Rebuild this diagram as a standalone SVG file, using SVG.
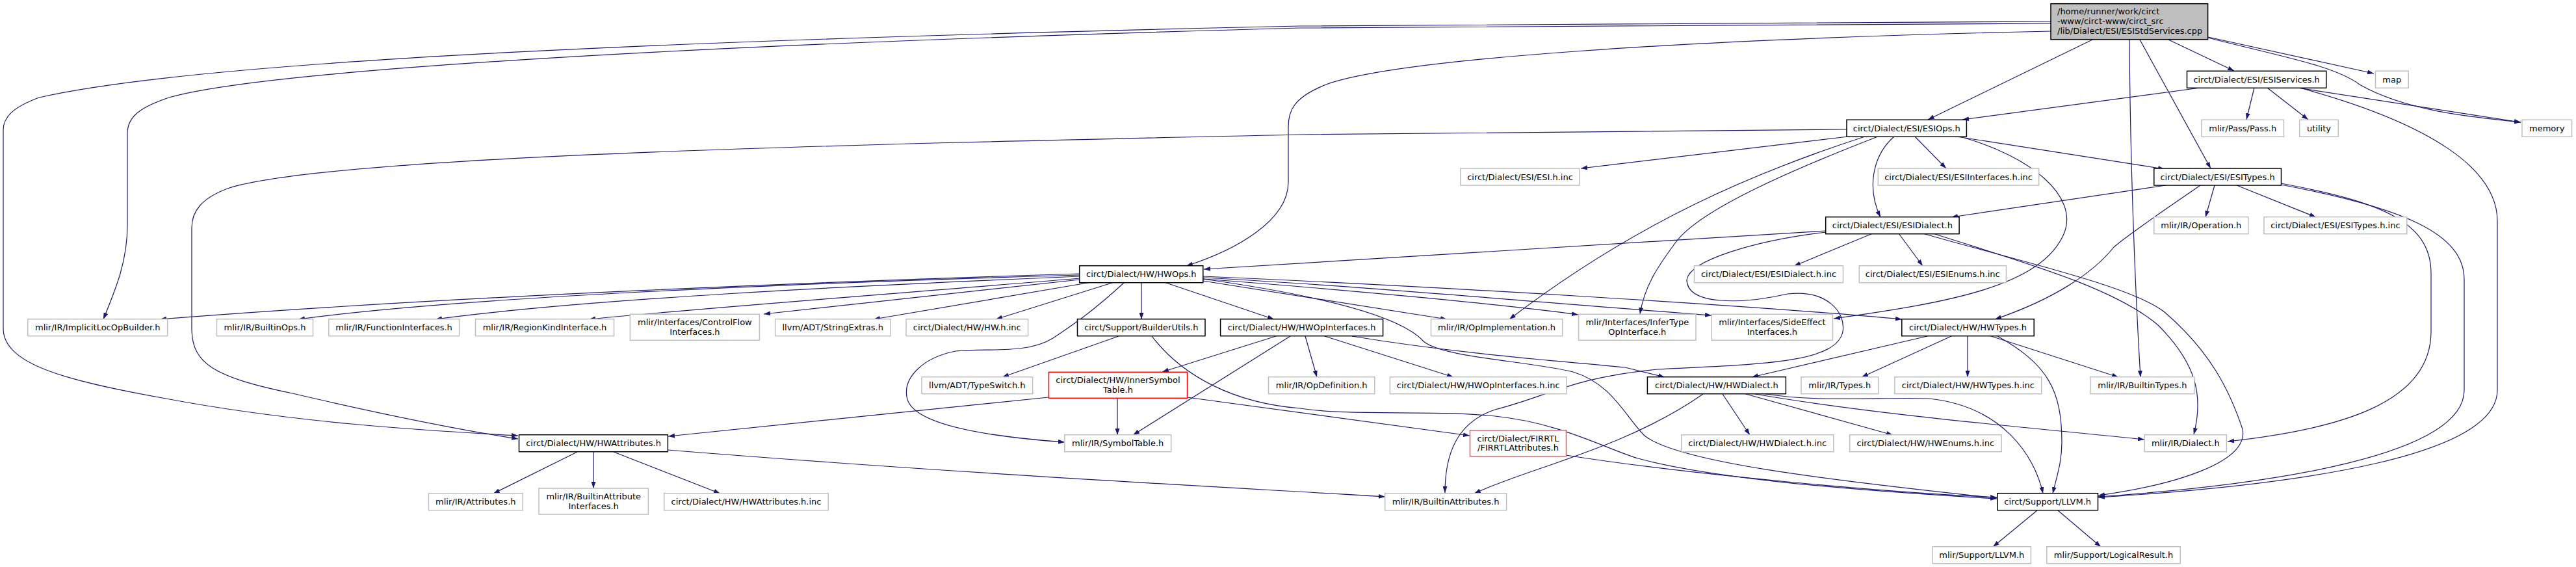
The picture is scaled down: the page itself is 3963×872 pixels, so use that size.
<svg xmlns="http://www.w3.org/2000/svg" width="3963" height="872" viewBox="0 0 3963 872">
<style>
.n rect{fill:#fff;stroke:#bfbfbf;stroke-width:1.5}
.n.b rect{stroke:#000}
.n.r rect{stroke:#ff0000}
.n.r2 rect{stroke:#f05555}
.n.t rect{fill:#bfbfbf;stroke:#000}
text{font-family:"DejaVu Sans","Liberation Sans",sans-serif;font-size:13px;fill:#000;text-anchor:middle}
.n.t text{text-anchor:start}
.e path{fill:none;stroke:#191970;stroke-width:1.2;marker-end:url(#a)}
</style>
<defs>
<marker id="a" viewBox="0 0 10 7" refX="10" refY="3.5" markerWidth="10" markerHeight="7" markerUnits="userSpaceOnUse" orient="auto">
<path d="M0,0 L10,3.5 L0,7 z" fill="#191970"/>
</marker>
</defs>
<rect width="3963" height="872" fill="#fff"/>
<g id="edges" class="e">
<path d="M3219,61 L2966,184"/>
<path d="M3276,61 C3277,250 3285,450 3293,580"/>
<path d="M3292,61 L3401,259"/>
<path d="M3336,61 L3437,109"/>
<path d="M3397,57 L3652,113"/>
<path d="M3397,58 C3500,85 3590,100 3630,130 C3700,170 3800,180 3878,188"/>
<path d="M3155,48 C2600,60 2150,90 2040,130 C1990,150 1982,170 1982,195 L1982,280 C1982,340 1900,385 1825,409"/>
<path d="M3155,36 L2000,43 C1000,70 400,110 260,150 C215,165 196,180 196,205 L196,345 C196,400 180,440 159,491"/>
<path d="M3155,33 L2000,40 C1000,62 300,95 60,150 C20,165 5,180 5,200 L5,505 C5,560 100,585 250,612 C450,650 650,662 797,670"/>
<path d="M3385,135 L3019,184"/>
<path d="M3468,135 L3456,184"/>
<path d="M3488,135 L3551,184"/>
<path d="M3534,135 L3878,188"/>
<path d="M3538,135 C3740,190 3842,260 3842,340 L3842,600 C3842,700 3550,745 3228,765"/>
<path d="M2914,210 C2880,240 2872,290 2893,334"/>
<path d="M2946,210 L2994,259"/>
<path d="M3010,210 L3330,260"/>
<path d="M3022,212 C3120,240 3200,300 3175,360 C3140,440 3000,465 2821,490"/>
<path d="M2843,210 L2432,259"/>
<path d="M2869,210 C2700,265 2520,340 2322,491"/>
<path d="M2889,210 C2760,260 2620,320 2580,370 C2550,410 2530,440 2523,483"/>
<path d="M2841,199 L2000,207 C1300,222 500,240 350,290 C310,305 295,325 295,350 L295,505 C295,560 330,580 450,605 C600,640 700,660 797,675"/>
<path d="M3332,285 L3002,334"/>
<path d="M3385,285 C3320,330 3275,360 3252,380 C3220,420 3160,460 3069,491"/>
<path d="M3407,285 L3393,334"/>
<path d="M3441,285 L3563,334"/>
<path d="M3509,282 C3660,310 3740,340 3740,420 L3740,510 C3740,620 3600,660 3427,679"/>
<path d="M3509,284 C3700,320 3791,360 3791,430 L3791,600 C3791,700 3500,745 3228,764"/>
<path d="M2809,355 L1852,414"/>
<path d="M2881,359 L2760,409"/>
<path d="M2921,359 L2958,409"/>
<path d="M2809,357 C2700,370 2600,400 2595,430 C2595,470 2680,468 2750,452 C2810,445 2840,480 2835,510 C2825,560 2700,560 2550,568 C2420,580 2380,610 2300,630 C2240,650 2223,700 2223,758"/>
<path d="M2974,359 C3100,400 3250,440 3320,500 C3380,560 3390,610 3375,668"/>
<path d="M2958,359 C3100,400 3280,440 3330,480 C3400,540 3430,600 3450,660 C3460,710 3350,745 3228,762"/>
<path d="M1661,421 C1300,432 700,455 246,491"/>
<path d="M1661,423 C1200,436 700,458 459,491"/>
<path d="M1661,425 C1300,440 900,460 670,491"/>
<path d="M1661,428 C1400,450 1100,472 906,491"/>
<path d="M1661,430 L1175,483"/>
<path d="M1679,434 L1344,491"/>
<path d="M1714,434 L1532,491"/>
<path d="M1756,434 L1756,491"/>
<path d="M1791,434 L1960,491"/>
<path d="M1730,434 C1680,480 1650,500 1620,520 C1580,545 1520,535 1470,540 C1420,550 1390,580 1395,610 C1400,650 1500,670 1638,680"/>
<path d="M1851,432 L2226,491"/>
<path d="M1851,429 C2000,440 2300,466 2428,484"/>
<path d="M1851,427 C2100,440 2400,468 2633,485"/>
<path d="M1851,425 C2200,440 2700,470 2926,491"/>
<path d="M1851,429 C2000,450 2150,480 2190,525 C2220,550 2350,555 2420,572 C2480,590 2500,640 2530,670 C2580,710 2800,737 3072,766"/>
<path d="M1721,517 L1542,580"/>
<path d="M1772,517 C1820,580 1900,620 2000,628 C2080,640 2200,630 2300,640 C2400,650 2470,690 2520,705 C2650,740 2900,757 3072,767"/>
<path d="M1963,517 L1788,572"/>
<path d="M1985,517 L1743,669"/>
<path d="M2008,517 L2026,580"/>
<path d="M2038,517 L2236,580"/>
<path d="M2080,517 C2250,545 2400,555 2500,565 L2561,580"/>
<path d="M1613,611 L1028,671"/>
<path d="M1719,612 L1719,669"/>
<path d="M1826,611 L2261,670"/>
<path d="M2409,700 C2600,730 2900,757 3072,765"/>
<path d="M888,695 L759,759"/>
<path d="M913,695 L913,751"/>
<path d="M944,695 L1108,759"/>
<path d="M1027,692 C1500,730 1900,750 2131,764"/>
<path d="M2620,606 C2500,690 2350,720 2268,759"/>
<path d="M2650,606 L2692,669"/>
<path d="M2686,606 L2912,669"/>
<path d="M2700,606 C2900,640 3150,660 3299,676"/>
<path d="M2710,605 C2800,620 2900,610 2968,613 C3080,625 3130,700 3143,759"/>
<path d="M2965,517 L2695,580"/>
<path d="M3002,517 L2864,580"/>
<path d="M3027,517 L3027,580"/>
<path d="M3063,517 L3259,580"/>
<path d="M3073,517 C3150,560 3172,600 3172,680 C3172,710 3165,730 3158,759"/>
<path d="M3134,785 L3066,841"/>
<path d="M3166,785 L3232,841"/>
</g>
<g id="title" class="n t"><rect x="3155" y="5.7" width="241.6" height="55"/><text x="3165" y="22">/home/runner/work/circt</text><text x="3165" y="37">-www/circt-www/circt_src</text><text x="3165" y="52">/lib/Dialect/ESI/ESIStdServices.cpp</text></g>
<g id="esiservices" class="n b"><rect x="3364.5" y="109.3" width="214.3" height="26"/><text x="3471.6" y="126.8">circt/Dialect/ESI/ESIServices.h</text></g>
<g id="map" class="n"><rect x="3654.5" y="109.3" width="50.7" height="26"/><text x="3679.8" y="126.8">map</text></g>
<g id="esiops" class="n b"><rect x="2841" y="184.3" width="184.4" height="26"/><text x="2933.2" y="201.8">circt/Dialect/ESI/ESIOps.h</text></g>
<g id="pass" class="n"><rect x="3387" y="184.3" width="126.5" height="26"/><text x="3450.2" y="201.8">mlir/Pass/Pass.h</text></g>
<g id="utility" class="n"><rect x="3537.7" y="184.3" width="59.6" height="26"/><text x="3567.5" y="201.8">utility</text></g>
<g id="memory" class="n"><rect x="3880" y="184.3" width="76.5" height="26"/><text x="3918.2" y="201.8">memory</text></g>
<g id="esiinc" class="n"><rect x="2247" y="259" width="183" height="26"/><text x="2338.5" y="276.5">circt/Dialect/ESI/ESI.h.inc</text></g>
<g id="esiifinc" class="n"><rect x="2889.3" y="259" width="247.3" height="26"/><text x="3013" y="276.5">circt/Dialect/ESI/ESIInterfaces.h.inc</text></g>
<g id="esitypes" class="n b"><rect x="3313.8" y="259" width="195.7" height="26"/><text x="3411.6" y="276.5">circt/Dialect/ESI/ESITypes.h</text></g>
<g id="esidialect" class="n b"><rect x="2808.7" y="333.7" width="205.4" height="26"/><text x="2911.4" y="351.2">circt/Dialect/ESI/ESIDialect.h</text></g>
<g id="operation" class="n"><rect x="3313.8" y="333.7" width="145" height="26"/><text x="3386.3" y="351.2">mlir/IR/Operation.h</text></g>
<g id="esitypesinc" class="n"><rect x="3483" y="333.7" width="219.8" height="26"/><text x="3592.9" y="351.2">circt/Dialect/ESI/ESITypes.h.inc</text></g>
<g id="hwops" class="n b"><rect x="1660.7" y="408.7" width="190.1" height="26"/><text x="1755.8" y="426.2">circt/Dialect/HW/HWOps.h</text></g>
<g id="esidialectinc" class="n"><rect x="2606.5" y="408.7" width="229" height="26"/><text x="2721" y="426.2">circt/Dialect/ESI/ESIDialect.h.inc</text></g>
<g id="esienumsinc" class="n"><rect x="2860.3" y="408.7" width="226.1" height="26"/><text x="2973.3" y="426.2">circt/Dialect/ESI/ESIEnums.h.inc</text></g>
<g id="implicit" class="n"><rect x="42.7" y="490.7" width="215" height="26"/><text x="150.2" y="508.2">mlir/IR/ImplicitLocOpBuilder.h</text></g>
<g id="builtinops" class="n"><rect x="333.5" y="490.7" width="148" height="26"/><text x="407.5" y="508.2">mlir/IR/BuiltinOps.h</text></g>
<g id="funcif" class="n"><rect x="505.7" y="490.7" width="200.9" height="26"/><text x="606.1" y="508.2">mlir/IR/FunctionInterfaces.h</text></g>
<g id="regionkind" class="n"><rect x="731.5" y="490.7" width="213" height="26"/><text x="838" y="508.2">mlir/IR/RegionKindInterface.h</text></g>
<g id="controlflow" class="n"><rect x="969.4" y="483.3" width="199" height="40"/><text x="1068.9" y="500.3">mlir/Interfaces/ControlFlow</text><text x="1068.9" y="514.8">Interfaces.h</text></g>
<g id="stringextras" class="n"><rect x="1192.6" y="490.7" width="177.3" height="26"/><text x="1281.2" y="508.2">llvm/ADT/StringExtras.h</text></g>
<g id="hwinc" class="n"><rect x="1394" y="490.7" width="187.6" height="26"/><text x="1487.8" y="508.2">circt/Dialect/HW/HW.h.inc</text></g>
<g id="builderutils" class="n b"><rect x="1657.5" y="490.7" width="196.5" height="26"/><text x="1755.8" y="508.2">circt/Support/BuilderUtils.h</text></g>
<g id="hwopif" class="n b"><rect x="1877.6" y="490.7" width="250" height="26"/><text x="2002.6" y="508.2">circt/Dialect/HW/HWOpInterfaces.h</text></g>
<g id="opimpl" class="n"><rect x="2201.5" y="490.7" width="202.2" height="26"/><text x="2302.6" y="508.2">mlir/IR/OpImplementation.h</text></g>
<g id="infertype" class="n"><rect x="2428.6" y="483.3" width="180.4" height="40"/><text x="2518.8" y="500.3">mlir/Interfaces/InferType</text><text x="2518.8" y="514.8">OpInterface.h</text></g>
<g id="sideeffect" class="n"><rect x="2633.3" y="483.3" width="186.2" height="40"/><text x="2726.4" y="500.3">mlir/Interfaces/SideEffect</text><text x="2726.4" y="514.8">Interfaces.h</text></g>
<g id="hwtypes" class="n b"><rect x="2925.8" y="490.7" width="203.4" height="26"/><text x="3027.5" y="508.2">circt/Dialect/HW/HWTypes.h</text></g>
<g id="typeswitch" class="n"><rect x="1418" y="579.7" width="170.6" height="26"/><text x="1503.3" y="597.2">llvm/ADT/TypeSwitch.h</text></g>
<g id="innersym" class="n r"><rect x="1613.5" y="572.3" width="213" height="40"/><text x="1720" y="589.3">circt/Dialect/HW/InnerSymbol</text><text x="1720" y="603.8">Table.h</text></g>
<g id="opdef" class="n"><rect x="1951.5" y="579.7" width="163.3" height="26"/><text x="2033.2" y="597.2">mlir/IR/OpDefinition.h</text></g>
<g id="hwopifinc" class="n"><rect x="2138.4" y="579.7" width="271.6" height="26"/><text x="2274.2" y="597.2">circt/Dialect/HW/HWOpInterfaces.h.inc</text></g>
<g id="hwdialect" class="n b"><rect x="2534.4" y="579.7" width="213" height="26"/><text x="2640.9" y="597.2">circt/Dialect/HW/HWDialect.h</text></g>
<g id="types" class="n"><rect x="2771" y="579.7" width="118.7" height="26"/><text x="2830.3" y="597.2">mlir/IR/Types.h</text></g>
<g id="hwtypesinc" class="n"><rect x="2914.9" y="579.7" width="225.8" height="26"/><text x="3027.8" y="597.2">circt/Dialect/HW/HWTypes.h.inc</text></g>
<g id="builtintypes" class="n"><rect x="3215.9" y="579.7" width="160" height="26"/><text x="3295.9" y="597.2">mlir/IR/BuiltinTypes.h</text></g>
<g id="hwattrs" class="n b"><rect x="798.5" y="668.7" width="228.9" height="26"/><text x="913" y="686.2">circt/Dialect/HW/HWAttributes.h</text></g>
<g id="symtab" class="n"><rect x="1637.8" y="668.7" width="163.9" height="26"/><text x="1719.7" y="686.2">mlir/IR/SymbolTable.h</text></g>
<g id="firrtl" class="n r2"><rect x="2261.5" y="661.7" width="148" height="40"/><text x="2335.5" y="678.7">circt/Dialect/FIRRTL</text><text x="2335.5" y="693.2">/FIRRTLAttributes.h</text></g>
<g id="hwdialectinc" class="n"><rect x="2586.7" y="668.7" width="234.1" height="26"/><text x="2703.7" y="686.2">circt/Dialect/HW/HWDialect.h.inc</text></g>
<g id="hwenumsinc" class="n"><rect x="2845.7" y="668.7" width="233.3" height="26"/><text x="2962.3" y="686.2">circt/Dialect/HW/HWEnums.h.inc</text></g>
<g id="dialect" class="n"><rect x="3299.3" y="668.7" width="126.1" height="26"/><text x="3362.3" y="686.2">mlir/IR/Dialect.h</text></g>
<g id="attrs" class="n"><rect x="659.4" y="758.7" width="144.8" height="26"/><text x="731.8" y="776.2">mlir/IR/Attributes.h</text></g>
<g id="builtinattrif" class="n"><rect x="829" y="751" width="168.4" height="40"/><text x="913.2" y="768">mlir/IR/BuiltinAttribute</text><text x="913.2" y="782.5">Interfaces.h</text></g>
<g id="hwattrsinc" class="n"><rect x="1021.7" y="758.7" width="252.5" height="26"/><text x="1148" y="776.2">circt/Dialect/HW/HWAttributes.h.inc</text></g>
<g id="builtinattrs" class="n"><rect x="2130.7" y="758.7" width="186.9" height="26"/><text x="2224.1" y="776.2">mlir/IR/BuiltinAttributes.h</text></g>
<g id="llvm" class="n b"><rect x="3072.9" y="758.7" width="154.6" height="26"/><text x="3150.2" y="776.2">circt/Support/LLVM.h</text></g>
<g id="mlirllvm" class="n"><rect x="2973.2" y="840.7" width="151.2" height="26"/><text x="3048.8" y="858.2">mlir/Support/LLVM.h</text></g>
<g id="logicalresult" class="n"><rect x="3148.8" y="840.7" width="205.4" height="26"/><text x="3251.5" y="858.2">mlir/Support/LogicalResult.h</text></g>
</svg>
